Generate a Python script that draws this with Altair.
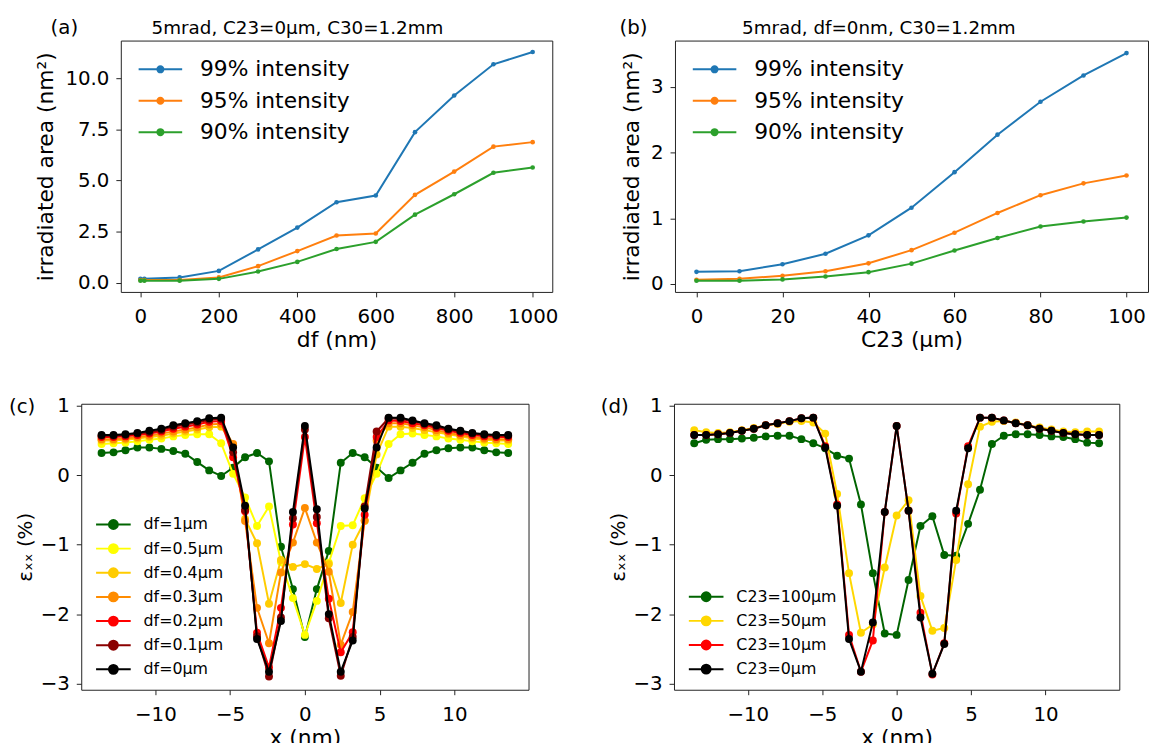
import altair as alt
import pandas as pd

FONT = "DejaVu Sans"

# ---------------- (a) irradiated area vs df ----------------
a_x = [0, 10, 100, 200, 300, 400, 500, 600, 700, 800, 900, 1000]
a_99 = [0.19, 0.19, 0.26, 0.58, 1.63, 2.70, 3.94, 4.27, 7.37, 9.16, 10.69, 11.29]
a_95 = [0.13, 0.13, 0.13, 0.26, 0.81, 1.55, 2.31, 2.41, 4.30, 5.44, 6.66, 6.88]
a_90 = [0.10, 0.10, 0.10, 0.19, 0.55, 1.02, 1.65, 2.00, 3.33, 4.33, 5.38, 5.64]

# ---------------- (b) irradiated area vs C23 ----------------
b_x = [0, 10, 20, 30, 40, 50, 60, 70, 80, 90, 100]
b_99 = [0.185, 0.195, 0.30, 0.46, 0.74, 1.16, 1.70, 2.27, 2.77, 3.17, 3.51]
b_95 = [0.065, 0.08, 0.125, 0.195, 0.315, 0.515, 0.78, 1.08, 1.35, 1.53, 1.65]
b_90 = [0.05, 0.05, 0.07, 0.115, 0.18, 0.31, 0.51, 0.70, 0.875, 0.95, 1.01]

area_names = ["99% intensity", "95% intensity", "90% intensity"]
area_colors = ["#1f77b4", "#ff7f0e", "#2ca02c"]

# ---------------- (c), (d) strain profiles ----------------
x_nm = [-13.6, -12.8, -12.0, -11.2, -10.4, -9.6, -8.8, -8.0, -7.2, -6.4, -5.6, -4.8,
        -4.0, -3.2, -2.4, -1.6, -0.8, 0.0, 0.8, 1.6, 2.4, 3.2, 4.0, 4.8, 5.6, 6.4,
        7.2, 8.0, 8.8, 9.6, 10.4, 11.2, 12.0, 12.8, 13.6]

c_df1 = [0.32, 0.33, 0.36, 0.40, 0.40, 0.38, 0.35, 0.31, 0.19, 0.07, -0.01, 0.11,
         0.26, 0.32, 0.20, -1.03, -1.64, -2.33, -1.64, -1.09, 0.18, 0.32, 0.26, 0.11,
         -0.04, 0.07, 0.18, 0.31, 0.36, 0.39, 0.40, 0.40, 0.36, 0.33, 0.32]
c_df05 = [0.45, 0.46, 0.47, 0.49, 0.51, 0.53, 0.56, 0.58, 0.59, 0.59, 0.46, 0.02,
          -0.32, -0.73, -0.45, -1.25, -1.77, -2.30, -1.81, -1.26, -0.73, -0.72, -0.33, 0.02,
          0.45, 0.59, 0.60, 0.58, 0.56, 0.53, 0.51, 0.49, 0.47, 0.46, 0.45]
c_df04 = [0.50, 0.50, 0.51, 0.53, 0.55, 0.57, 0.60, 0.63, 0.66, 0.69, 0.70, 0.43,
          -0.63, -0.98, -1.85, -1.22, -1.32, -1.28, -1.35, -1.28, -1.84, -1.00, -0.66, 0.30,
          0.70, 0.70, 0.68, 0.65, 0.62, 0.59, 0.56, 0.53, 0.51, 0.50, 0.50]
c_df03 = [0.52, 0.52, 0.53, 0.55, 0.57, 0.60, 0.63, 0.66, 0.69, 0.73, 0.74, 0.45,
          -0.66, -1.91, -2.42, -1.40, -0.97, -0.47, -0.97, -1.39, -2.44, -1.97, -0.65, 0.50,
          0.75, 0.75, 0.72, 0.69, 0.65, 0.61, 0.58, 0.55, 0.53, 0.52, 0.52]
c_df02 = [0.55, 0.55, 0.56, 0.58, 0.60, 0.63, 0.67, 0.70, 0.73, 0.77, 0.78, 0.26,
          -0.52, -2.27, -2.77, -1.91, -0.71, 0.55, -0.69, -1.78, -2.55, -2.26, -0.57, 0.55,
          0.79, 0.78, 0.75, 0.72, 0.68, 0.64, 0.61, 0.58, 0.56, 0.55, 0.55]
c_df01 = [0.57, 0.57, 0.58, 0.60, 0.62, 0.65, 0.70, 0.73, 0.76, 0.80, 0.81, 0.33,
          -0.50, -2.32, -2.90, -2.05, -0.62, 0.66, -0.60, -2.06, -2.89, -2.33, -0.45, 0.63,
          0.82, 0.81, 0.78, 0.74, 0.70, 0.66, 0.63, 0.60, 0.58, 0.57, 0.57]
c_df0 = [0.58, 0.58, 0.59, 0.61, 0.64, 0.67, 0.72, 0.75, 0.78, 0.82, 0.83, 0.40,
         -0.44, -2.36, -2.83, -2.10, -0.53, 0.71, -0.49, -2.00, -2.83, -2.38, -0.48, 0.40,
         0.83, 0.83, 0.79, 0.75, 0.72, 0.67, 0.64, 0.61, 0.59, 0.58, 0.58]

c_names = ["df=1µm", "df=0.5µm", "df=0.4µm", "df=0.3µm", "df=0.2µm", "df=0.1µm", "df=0µm"]
c_colors = ["#006400", "#ffff00", "#ffcc00", "#ff8c00", "#ff0000", "#8b0000", "#000000"]

d_c100 = [0.46, 0.51, 0.52, 0.52, 0.53, 0.54, 0.56, 0.57, 0.57, 0.52, 0.46, 0.39,
          0.28, 0.24, -0.42, -1.41, -2.28, -2.30, -1.51, -0.73, -0.59, -1.15, -1.16, -0.70,
          -0.21, 0.45, 0.57, 0.59, 0.59, 0.58, 0.56, 0.55, 0.52, 0.47, 0.46]
d_c50 = [0.65, 0.62, 0.61, 0.62, 0.65, 0.68, 0.72, 0.74, 0.77, 0.78, 0.76, 0.60,
         -0.27, -1.41, -2.27, -2.15, -1.33, -0.58, -0.36, -1.74, -2.24, -2.20, -1.22, -0.13,
         0.70, 0.77, 0.78, 0.76, 0.72, 0.69, 0.66, 0.63, 0.62, 0.63, 0.63]
d_c10 = [0.58, 0.58, 0.59, 0.61, 0.64, 0.67, 0.72, 0.75, 0.78, 0.82, 0.83, 0.42,
         -0.42, -2.30, -2.83, -2.38, -0.53, 0.71, -0.51, -1.98, -2.87, -2.42, -0.55, 0.42,
         0.83, 0.83, 0.79, 0.75, 0.72, 0.67, 0.64, 0.61, 0.59, 0.58, 0.58]
d_c0 = [0.58, 0.58, 0.59, 0.61, 0.64, 0.67, 0.72, 0.75, 0.78, 0.82, 0.83, 0.40,
        -0.44, -2.36, -2.83, -2.12, -0.53, 0.71, -0.51, -2.05, -2.86, -2.43, -0.51, 0.39,
        0.83, 0.83, 0.79, 0.75, 0.72, 0.67, 0.64, 0.61, 0.59, 0.58, 0.58]

d_names = ["C23=100µm", "C23=50µm", "C23=10µm", "C23=0µm"]
d_colors = ["#006400", "#ffd700", "#ff0000", "#000000"]


def sym_path(r):
    return (f"M-1,0L1,0M{-r},0A{r},{r},0,1,1,{r},0A{r},{r},0,1,1,{-r},0Z")


def text_layer(txt, x, y, size, align):
    return alt.Chart(pd.DataFrame({"t": [txt]})).mark_text(
        align=align, baseline="alphabetic", fontSize=size, font=FONT, color="black"
    ).encode(x=alt.value(x), y=alt.value(y), text="t:N")


def panel(xs, series, names, colors, xdom, ydom, xticks, yticks, xfmt, yfmt,
          xtitle, ytitle, width, height, title, title_dx, label, label_x, label_y,
          legend_kw, stroke_w, pt_size, ytitle_pad, ytitle_size):
    rows = []
    for name, vals in zip(names, series):
        for x, v in zip(xs, vals):
            rows.append({"x": x, "v": v, "s": name})
    data = pd.DataFrame(rows)
    xenc = alt.X("x:Q", scale=alt.Scale(domain=xdom, nice=False, zero=False),
                 axis=alt.Axis(values=xticks, format=xfmt, title=xtitle,
                               labelPadding=10, titlePadding=3))
    yenc = alt.Y("v:Q", scale=alt.Scale(domain=ydom, nice=False, zero=False),
                 axis=alt.Axis(values=yticks, format=yfmt, title=ytitle,
                               labelPadding=7, titlePadding=ytitle_pad,
                               titleFontSize=ytitle_size))
    scale = alt.Scale(domain=names, range=colors)
    leg = alt.Legend(**legend_kw)
    layers = []
    for name in names:
        base = alt.Chart(data).transform_filter(alt.datum.s == name)
        layers.append(base.mark_line(strokeWidth=stroke_w).encode(
            x=xenc, y=yenc,
            stroke=alt.Stroke("s:N", scale=scale, legend=leg, sort=names)))
        layers.append(base.mark_circle(size=pt_size, opacity=1).encode(
            x=xenc, y=yenc,
            fill=alt.Fill("s:N", scale=scale, legend=leg, sort=names)))
    layers.append(text_layer(label, label_x, label_y, 20, "left"))
    if title:
        layers.append(text_layer(title, width / 2 + title_dx, -7, 18.5, "center"))
    return alt.layer(*layers).properties(width=width, height=height)


def indep(ch):
    return ch.resolve_scale(stroke="independent", fill="independent").resolve_legend(
        stroke="independent", fill="independent")


leg_area = dict(title=None, orient="none", legendX=17, legendY=13.5,
                symbolType=sym_path(0.14), symbolSize=1936, symbolStrokeWidth=2,
                labelFont=FONT, labelFontSize=22, labelColor="black", labelOffset=17,
                padding=0, rowPadding=0.8, clipHeight=31)

pa = panel(a_x, [a_99, a_95, a_90], area_names, area_colors,
           [-50, 1050], [-0.45, 11.85], [0, 200, 400, 600, 800, 1000],
           [0, 2.5, 5, 7.5, 10], "d", ".1f", "df (nm)", "irradiated area (nm²)",
           436, 254, "5mrad, C23=0µm, C30=1.2mm", -39.5, "(a)", -71, -7,
           leg_area, 2, 22, 7, 22)

pb = panel(b_x, [b_99, b_95, b_90], area_names, area_colors,
           [-5, 105], [-0.12, 3.70], [0, 20, 40, 60, 80, 100],
           [0, 1, 2, 3], "d", "d", "C23 (µm)", "irradiated area (nm²)",
           478, 254, "5mrad, df=0nm, C30=1.2mm", -33, "(b)", -56, -7,
           leg_area, 2, 22, 7, 22)

leg_c = dict(title=None, orient="none", legendX=14, legendY=110,
             symbolType=sym_path(0.257), symbolSize=1225, symbolStrokeWidth=2,
             labelFont=FONT, labelFontSize=16, labelColor="black", labelOffset=12,
             padding=0, rowPadding=0.4, clipHeight=24)
leg_d = dict(leg_c)
leg_d["legendY"] = 183

pc = panel(x_nm, [c_df1, c_df05, c_df04, c_df03, c_df02, c_df01, c_df0], c_names, c_colors,
           [-14.96, 14.96], [-3.09, 1.03], [-10, -5, 0, 5, 10], [-3, -2, -1, 0, 1],
           "d", "d", "x (nm)", "εₓₓ (%)", 452, 289, "", 0, "(c)", -73, 9.5,
           leg_c, 2, 64, 5, 20)

pd_ = panel(x_nm, [d_c100, d_c50, d_c10, d_c0], d_names, d_colors,
            [-14.96, 14.96], [-3.09, 1.03], [-10, -5, 0, 5, 10], [-3, -2, -1, 0, 1],
            "d", "d", "x (nm)", "εₓₓ (%)", 450, 289, "", 0, "(d)", -74, 9.5,
            leg_d, 2, 64, 5, 20)

# invisible spacer so that panel (a) can sit to the right of panel (c)
spacer = alt.Chart(pd.DataFrame({"t": [0]})).mark_point(opacity=0).properties(
    width=1, height=1, view=alt.ViewBackground(stroke="transparent"))

inner = indep(alt.hconcat(spacer, pa, spacing=-52))
row1 = indep(alt.hconcat(inner, pb, spacing=60))
row2 = indep(alt.hconcat(pc, pd_, spacing=71))
chart = indep(alt.vconcat(row1, row2, spacing=44)).properties(
    padding={"left": 0, "top": 5, "right": 0, "bottom": 0}
).configure_view(
    stroke="#222222", strokeWidth=1
).configure_axis(
    labelFont=FONT, titleFont=FONT, labelFontSize=20, titleFontSize=22,
    titleFontWeight="normal", labelColor="black", titleColor="black",
    tickColor="#222222", tickSize=5, tickWidth=1, grid=False, domain=False
)

chart.save("out.html", embed_options={"renderer": "svg", "actions": False})
